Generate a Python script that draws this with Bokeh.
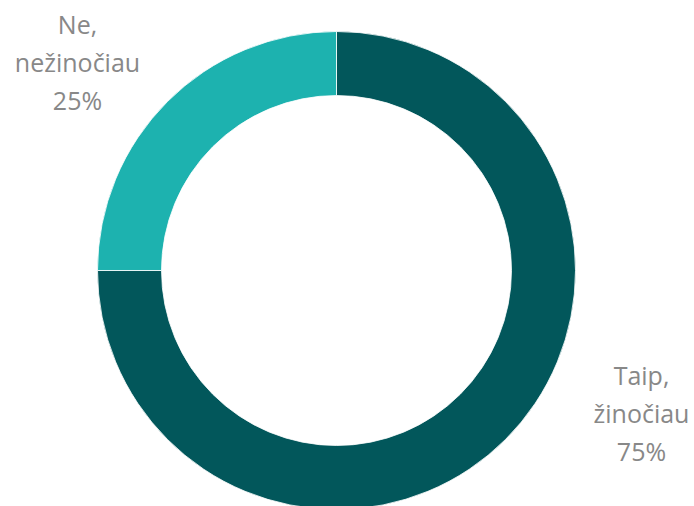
from bokeh.plotting import figure
from bokeh.models import Range1d, ColumnDataSource
from bokeh.core.properties import value
from bokeh.embed import file_html
from bokeh.resources import INLINE
import math

# data
categories = ["Taip, žinočiau", "Ne, nežinočiau"]
shares = [75, 25]
colors = ["#02575B", "#1DB2AF"]

W, H = 694, 506
p = figure(width=W, height=H, output_backend="svg", toolbar_location=None,
           x_range=Range1d(0, W), y_range=Range1d(-H, 0),
           min_border=0, outline_line_color=None)
p.axis.visible = False
p.grid.visible = False
p.background_fill_color = "white"
p.border_fill_color = "white"

cx, cy = 336, -270
r_out, r_in = 239, 175

total = sum(shares)
starts, ends = [], []
cum = 0
for s in shares:
    a0 = cum / total * 360
    cum += s
    a1 = cum / total * 360
    starts.append(math.radians(90 - a1))
    ends.append(math.radians(90 - a0))

src = ColumnDataSource(dict(start=starts, end=ends, color=colors))
p.annular_wedge(x=cx, y=cy, inner_radius=r_in, outer_radius=r_out,
                start_angle="start", end_angle="end", fill_color="color",
                line_color="white", line_width=0.8, source=src)

# labels
label_pos = [(641, -374), (77, -23)]
lh = 38
for (cat, share, (lx, ly)) in zip(categories, shares, label_pos):
    first, second = cat.split(" ")
    lines = [first, second, f"{share}%"]
    ys = [ly - i * lh for i in range(3)]
    p.text(x=[lx] * 3, y=ys, text=lines, text_align="center",
           text_baseline="alphabetic", text_font=value("Open Sans"),
           text_font_size="25px", text_color="#888888")

open("out.html", "w").write(file_html(p, INLINE))
